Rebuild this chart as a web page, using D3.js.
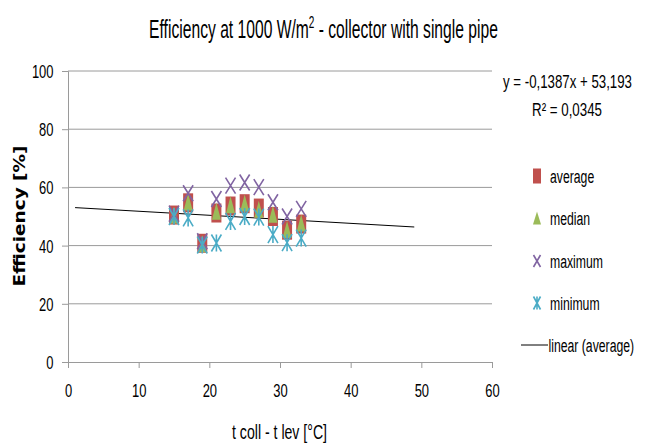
<!DOCTYPE html>
<html><head><meta charset="utf-8">
<script src="https://cdn.jsdelivr.net/npm/d3@7"></script>
<style>
body{margin:0;background:#fff;}
text{font-family:"Liberation Sans",Arial,sans-serif;fill:#000;}
</style></head>
<body><svg id="c" width="646" height="445"></svg>
<script>
const xValues = [15, 17, 19, 21, 23, 25, 27, 29, 31, 33];
const average = [50.5, 54.7, 40.8, 51.2, 53.6, 54.4, 52.9, 50.0, 45.3, 47.4];
const median  = [50.5, 55.0, 40.6, 51.8, 54.0, 54.6, 52.5, 50.8, 45.5, 47.8];
const maximum = [51.0, 58.0, 41.5, 56.0, 60.6, 61.7, 60.1, 54.9, 50.0, 52.6];
const minimum = [50.0, 49.5, 40.2, 40.9, 48.3, 50.0, 49.8, 43.8, 41.0, 42.6];
const xTicks = [0, 10, 20, 30, 40, 50, 60];
const yTicks = [0, 20, 40, 60, 80, 100];
const trendSlope = -0.1387, trendIntercept = 53.193;
const trendRange = [1, 49];
const legendLabels = ["average", "median", "maximum", "minimum", "linear (average)"];
const colors = {average:"#C0504D", median:"#9BBB59", maximum:"#8064A2", minimum:"#4BACC6"};

const svg = d3.select("#c");
const x = d3.scaleLinear().domain([0, 60]).range([68, 492]);
const y = d3.scaleLinear().domain([0, 100]).range([362, 71]);

// condensed text helper: anchor at (ax, ay), horizontally scaled to target width or by factor
function label(parent, txt, ax, ay, opts){
  const g = parent.append("g");
  const t = g.append("text").attr("text-anchor", opts.anchor || "start")
    .attr("font-size", opts.size || 16);
  if (opts.weight) t.attr("font-weight", opts.weight);
  if (opts.family) t.style("font-family", opts.family);
  if (opts.build) opts.build(t); else t.text(txt);
  let s = opts.scale || 1;
  if (opts.width) s = opts.width / t.node().getComputedTextLength();
  g.attr("transform", `translate(${ax},${ay})${opts.rotate ? " rotate(" + opts.rotate + ")" : ""} scale(${s},1)`);
  return g;
}

// gridlines
svg.append("g").selectAll("line").data(yTicks.filter(d => d > 0)).join("line")
  .attr("x1", x(0)).attr("x2", x(60)).attr("y1", d => y(d)).attr("y2", d => y(d))
  .attr("stroke", "#9a9a9a").attr("stroke-width", 1);

// axes (lines and ticks from d3 axes; labels condensed)
const TS = 0.72;
const xAxis = d3.axisBottom(x).tickValues(xTicks).tickSize(6).tickFormat("");
const gx = svg.append("g").attr("transform", `translate(0,${y(0)})`).call(xAxis);
gx.select(".domain").attr("stroke", "#9a9a9a");
gx.selectAll(".tick line").attr("stroke", "#9a9a9a");
gx.selectAll(".tick").each(function(d){
  label(d3.select(this), String(d), 0, 35, {anchor:"middle", size:18, scale:TS});
});

const yAxis = d3.axisLeft(y).tickValues(yTicks).tickSize(6).tickFormat("");
const gy = svg.append("g").attr("transform", `translate(${x(0)},0)`).call(yAxis);
gy.select(".domain").attr("stroke", "#9a9a9a");
gy.selectAll(".tick").select("line").attr("stroke", "#9a9a9a");
gy.selectAll(".tick").each(function(d){
  label(d3.select(this), String(d), -14.5, 6.5, {anchor:"end", size:18, scale:TS});
});

// trendline
svg.append("line")
  .attr("x1", x(trendRange[0])).attr("y1", y(trendSlope*trendRange[0] + trendIntercept))
  .attr("x2", x(trendRange[1])).attr("y2", y(trendSlope*trendRange[1] + trendIntercept))
  .attr("stroke", "#000").attr("stroke-width", 1);

// marker shapes
function drawSquare(g, cx, cy, w, h){ g.append("rect").attr("x", cx-w/2).attr("y", cy-h/2).attr("width", w).attr("height", h).attr("fill", colors.average); }
function drawTri(g, cx, cy, w, h){ g.append("path").attr("d", `M${cx},${cy-h/2}L${cx+w/2},${cy+h/2}L${cx-w/2},${cy+h/2}Z`).attr("fill", colors.median); }
function drawX(g, cx, cy, w, h){ g.append("path").attr("d", `M${cx-w/2},${cy-h/2}L${cx+w/2},${cy+h/2}M${cx+w/2},${cy-h/2}L${cx-w/2},${cy+h/2}`).attr("stroke", colors.maximum).attr("stroke-width", 1.6).attr("fill", "none"); }
function drawStar(g, cx, cy, w, h){ g.append("path").attr("d", `M${cx-w/2},${cy-h/2}L${cx+w/2},${cy+h/2}M${cx+w/2},${cy-h/2}L${cx-w/2},${cy+h/2}M${cx},${cy-h/2}L${cx},${cy+h/2}`).attr("stroke", colors.minimum).attr("stroke-width", 1.6).attr("fill", "none"); }

const gm = svg.append("g");
xValues.forEach((xv, i) => drawSquare(gm, x(xv), y(average[i]), 10, 19));
xValues.forEach((xv, i) => drawTri(gm, x(xv), y(median[i]), 9, 17));
xValues.forEach((xv, i) => drawX(gm, x(xv), y(maximum[i]), 10, 16));
xValues.forEach((xv, i) => drawStar(gm, x(xv), y(minimum[i]), 10, 17));

// title
label(svg, null, 323.5, 38, {anchor:"middle", size:25, width:349, build: t => {
  t.append("tspan").text("Efficiency at 1000 W/m");
  t.append("tspan").attr("font-size", 16).attr("dy", -10).text("2");
  t.append("tspan").attr("dy", 10).text(" - collector with single pipe");
}});

// axis titles
label(svg, "t coll - t lev [°C]", 279.5, 439, {anchor:"middle", size:20, width:95});
label(svg, "Efficiency [%]", 25, 216, {anchor:"middle", size:15, weight:"bold",
  family:"Verdana,'DejaVu Sans',sans-serif", rotate:-90, width:141});

// equation
label(svg, "y = -0,1387x + 53,193", 567.5, 88, {anchor:"middle", size:18, width:129});
label(svg, "R² = 0,0345", 567, 116, {anchor:"middle", size:18, width:70});

// legend
const legY = [176, 218, 261, 303, 345];
const lg = svg.append("g");
drawSquare(lg, 537, legY[0], 8, 15);
drawTri(lg, 537, legY[1], 8, 13);
drawX(lg, 537, legY[2], 7, 12);
drawStar(lg, 537, legY[3], 7, 13);
lg.append("line").attr("x1", 521).attr("x2", 548).attr("y1", legY[4]).attr("y2", legY[4]).attr("stroke", "#000");
legendLabels.forEach((t, i) => {
  label(lg, t, i < 4 ? 550 : 548.5, legY[i] + 6.5, {anchor:"start", size:18, scale:0.68});
});
</script></body></html>
